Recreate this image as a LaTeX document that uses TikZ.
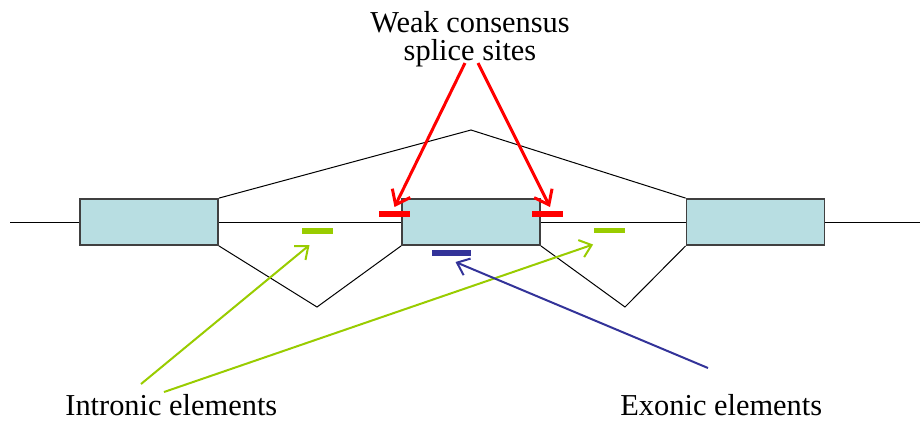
\documentclass[tikz,border=0pt]{standalone}
\usepackage{fontspec}
\setmainfont{Liberation Serif}
\usepackage{xcolor}
\usetikzlibrary{arrows.meta,positioning,calc}

\definecolor{exonblue}{RGB}{184,222,226}
\definecolor{exonline}{RGB}{64,64,64}
\definecolor{intgreen}{RGB}{153,204,0}
\definecolor{exnavy}{RGB}{51,51,153}

\begin{document}
\begin{tikzpicture}[x=0.5pt,y=-0.5pt,
  exon/.style={rectangle, draw=exonline, line width=0.9pt, fill=exonblue, minimum width=69pt, minimum height=23pt, inner sep=0pt},
  bar/.style={rectangle, inner sep=0pt, minimum width=15.5pt, minimum height=2.6pt},
  lbl/.style={font=\fontsize{15.2}{14}\selectfont, inner sep=0pt}]
\useasboundingbox (0,0) rectangle (920,425);

\coordinate (lend) at (10,222);
\coordinate (rend) at (920,222);
\draw[line width=0.5pt] (lend) -- (rend);

\node[exon] (ex1) at (149,222) {};
\node[exon] (ex2) at (471,222) {};
\node[exon] (ex3) at (755.5,222) {};

\coordinate (skip) at (471,130);
\coordinate (dipl) at (317,307);
\coordinate (dipr) at (625,307);
\draw[line width=0.5pt] (ex1.north east) -- (skip) -- (ex3.north west);
\draw[line width=0.5pt] (ex1.south east) -- (dipl) -- (ex2.south west);
\draw[line width=0.5pt] (ex2.south east) -- (dipr) -- (ex3.south west);

\node[bar, fill=red] (ss1) at (394.5,214) {};
\node[bar, fill=red] (ss2) at (547,214) {};
\node[bar, fill=intgreen] (ie1) at (317.5,231) {};
\node[bar, fill=intgreen] (ie2) at (609,230.5) {};
\node[bar, fill=exnavy, minimum width=19.5pt] (ee1) at (451.5,253) {};

\node[lbl, align=center, anchor=base] (weak) at (470,60) {Weak consensus\\splice sites};
\node[lbl, anchor=base west] (intr) at (65,415) {Intronic elements};
\node[lbl, anchor=base west] (exon) at (620,415) {Exonic elements};

\coordinate (r1) at (465,63);
\coordinate (r2) at (478,63);
\draw[red, line width=1.5pt, -{Straight Barb[length=6.5pt,width=10pt]}] (r1) -- ([yshift=2pt]ss1.north);
\draw[red, line width=1.5pt, -{Straight Barb[length=6.5pt,width=10pt]}] (r2) -- ([shift={(1.5pt,2pt)}]ss2.north);

\coordinate (g1) at (141,384);
\coordinate (g2) at (164,392);
\draw[intgreen, line width=1pt, -{Straight Barb[length=5.5pt,width=9pt]}] (g1) -- ([shift={(-4pt,-5.5pt)}]ie1.south);
\draw[intgreen, line width=1pt, -{Straight Barb[length=5.5pt,width=9pt]}] (g2) -- ([yshift=-5.5pt]ie2.south west);

\coordinate (b1) at (708,368);
\draw[exnavy, line width=1pt, -{Straight Barb[length=5.5pt,width=9pt]}] (b1) -- ([shift={(2pt,-3pt)}]ee1.south);
\end{tikzpicture}
\end{document}
